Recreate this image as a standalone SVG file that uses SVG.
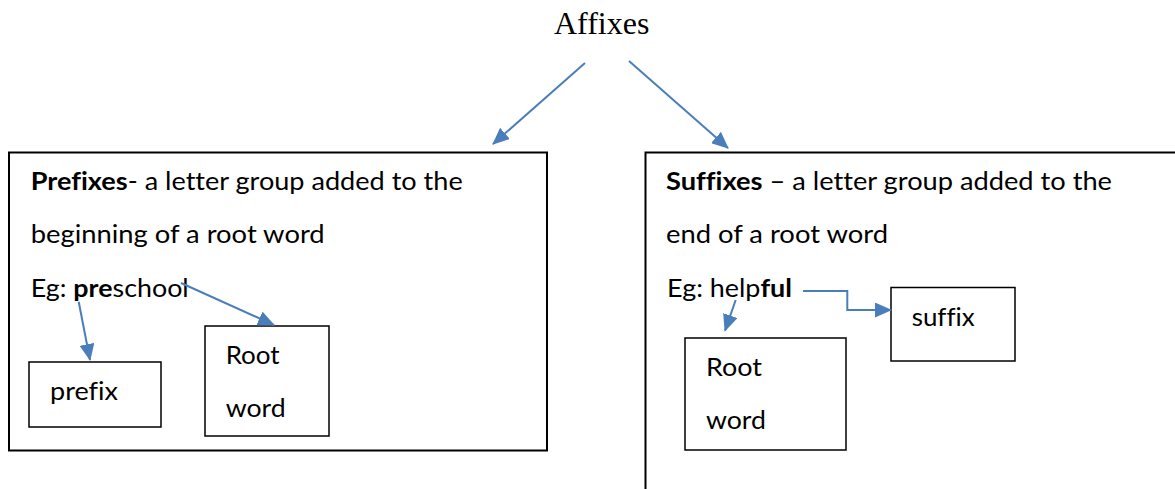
<svg xmlns="http://www.w3.org/2000/svg" width="1175" height="489" viewBox="0 0 1175 489">
<style>
.t{font-family:Lato,"Open Sans","Liberation Sans",sans-serif;font-size:25px;fill:#000;font-variant-ligatures:none}
.b{font-weight:bold}
.big{fill:#fff;stroke:#000;stroke-width:2}
.sm{fill:#fff;stroke:#000;stroke-width:1.5}
.c{fill:none;stroke:#4a7ebb;stroke-width:2;marker-end:url(#ah)}
</style>
<defs>
<marker id="ah" markerUnits="userSpaceOnUse" markerWidth="17" markerHeight="15" refX="16" refY="7.5" orient="auto">
<path d="M0,0 L17,7.5 L0,15 z" fill="#4a7ebb"/>
</marker>
</defs>
<g id="affixes">
<text x="554" y="34" font-family="Liberation Serif,serif" font-size="32">Affixes</text>
</g>
<g id="prefixes">
<rect class="big" x="9" y="152.5" width="538" height="298"/>
<text class="t" x="30.7" y="190" textLength="432" lengthAdjust="spacingAndGlyphs"><tspan class="b">Prefixes</tspan>- a letter group added to the</text>
<text class="t" x="30.7" y="243" textLength="294" lengthAdjust="spacingAndGlyphs">beginning of a root word</text>
<text class="t" x="30.7" y="297" textLength="158" lengthAdjust="spacingAndGlyphs">Eg: <tspan class="b">pre</tspan>school</text>
</g>
<g id="prefix">
<rect class="sm" x="29" y="362" width="132" height="65"/>
<text class="t" x="50" y="400" textLength="68" lengthAdjust="spacingAndGlyphs">prefix</text>
</g>
<g id="rootword-left">
<rect class="sm" x="205" y="326" width="124" height="110"/>
<text class="t" x="225.7" y="364" textLength="54" lengthAdjust="spacingAndGlyphs">Root</text>
<text class="t" x="225.7" y="417" textLength="60" lengthAdjust="spacingAndGlyphs">word</text>
</g>
<g id="suffixes">
<rect class="big" x="645.5" y="152.5" width="600" height="400"/>
<text class="t" x="666" y="190" textLength="446" lengthAdjust="spacingAndGlyphs"><tspan class="b">Suffixes</tspan> – a letter group added to the</text>
<text class="t" x="666" y="243" textLength="222" lengthAdjust="spacingAndGlyphs">end of a root word</text>
<text class="t" x="667" y="297" textLength="125" lengthAdjust="spacingAndGlyphs">Eg: help<tspan class="b">ful</tspan></text>
</g>
<g id="suffix">
<rect class="sm" x="891" y="287.5" width="124" height="73.5"/>
<text class="t" x="911.7" y="326" textLength="63" lengthAdjust="spacingAndGlyphs">suffix</text>
</g>
<g id="rootword-right">
<rect class="sm" x="685" y="338" width="161" height="112"/>
<text class="t" x="706" y="376" textLength="56" lengthAdjust="spacingAndGlyphs">Root</text>
<text class="t" x="706" y="428.5" textLength="60" lengthAdjust="spacingAndGlyphs">word</text>
</g>
<g id="connectors">
<line class="c" x1="585" y1="63" x2="493" y2="144"/>
<line class="c" x1="629" y1="61" x2="728" y2="148"/>
<line class="c" x1="78.7" y1="301.7" x2="90" y2="360"/>
<line class="c" x1="181" y1="283" x2="274" y2="325"/>
<line class="c" x1="735.7" y1="300" x2="725" y2="330.7"/>
<polyline class="c" points="803,291 847.3,291 847.3,310 891,310"/>
</g>
</svg>
